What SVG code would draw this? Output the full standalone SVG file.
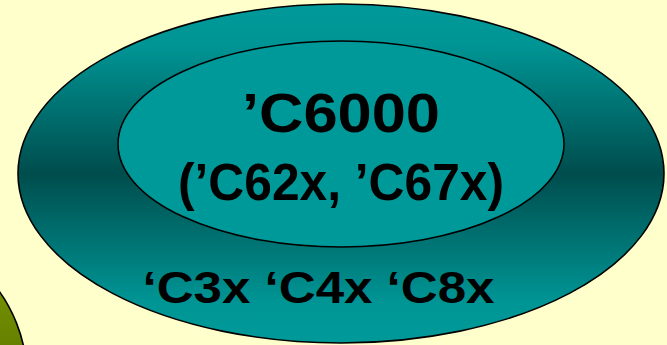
<svg xmlns="http://www.w3.org/2000/svg" width="667" height="345" viewBox="0 0 667 345">
  <defs>
    <linearGradient id="outerGrad" x1="0" y1="0" x2="0" y2="1">
      <stop offset="0" stop-color="#009999"/>
      <stop offset="0.12" stop-color="#009595"/>
      <stop offset="0.5" stop-color="#004d4d"/>
      <stop offset="0.88" stop-color="#009595"/>
      <stop offset="1" stop-color="#009999"/>
    </linearGradient>
    <linearGradient id="oliveGrad" x1="0" y1="0" x2="0" y2="1">
      <stop offset="0" stop-color="#809f00"/>
      <stop offset="1" stop-color="#3f5200"/>
    </linearGradient>
  </defs>
  <style>
    .shape { stroke: #000000; stroke-width: 1.6; }
    .lbl { font-family: "Liberation Sans", Arial, sans-serif; font-weight: bold; fill: #000000; text-anchor: middle; }
  </style>
  <rect x="0" y="0" width="667" height="345" fill="#FFFFCC"/>
  <g id="olive-shape">
    <circle class="shape" cx="-122" cy="378" r="149" fill="url(#oliveGrad)"/>
  </g>
  <g id="outer-ellipse">
    <ellipse class="shape" cx="341" cy="173.5" rx="323" ry="169.5" fill="url(#outerGrad)"/>
    <text class="lbl" x="318.5" y="303" font-size="44" textLength="352" lengthAdjust="spacingAndGlyphs">‘C3x ‘C4x ‘C8x</text>
  </g>
  <g id="inner-ellipse">
    <ellipse class="shape" cx="341" cy="144" rx="223" ry="103" fill="#009999"/>
    <text class="lbl" x="341" y="132" font-size="56" textLength="198" lengthAdjust="spacingAndGlyphs">’C6000</text>
    <text class="lbl" x="341" y="200" font-size="51" textLength="326" lengthAdjust="spacingAndGlyphs">(’C62x, ’C67x)</text>
  </g>
  <g id="connectors"/>
</svg>
